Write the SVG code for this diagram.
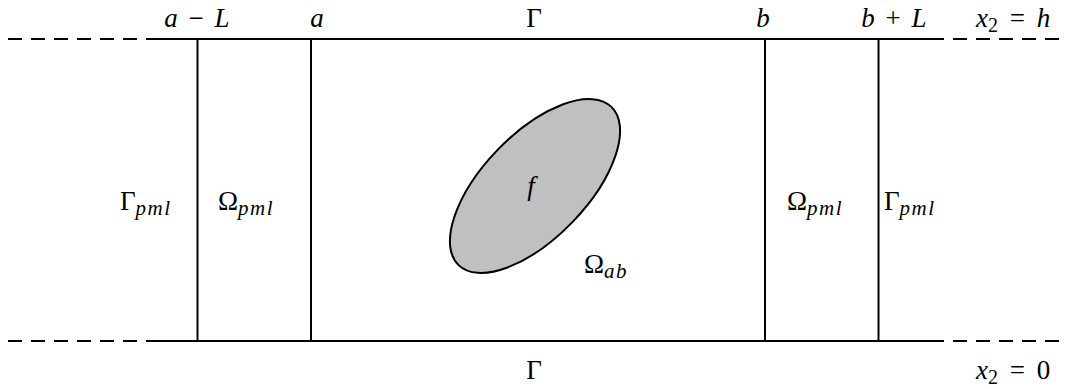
<svg xmlns="http://www.w3.org/2000/svg" width="1066" height="389" viewBox="0 0 1066 389">
<style>
.ln{stroke:#000;stroke-width:2;fill:none}
.ds{stroke:#000;stroke-width:2;fill:none;stroke-dasharray:14 9}
text{font-family:"Liberation Serif","DejaVu Serif",serif;font-size:27px;fill:#000}
.i{font-style:italic}
.s{font-size:21px;font-style:italic;letter-spacing:1.5px}
.m{text-anchor:middle}
</style>
<rect width="1066" height="389" fill="#fff"/>
<g id="connectors">
<line class="ds" x1="8" y1="39" x2="160" y2="39"/>
<line class="ln" x1="160" y1="39" x2="930" y2="39"/>
<line class="ds" x1="930" y1="39" x2="1064" y2="39"/>
<line class="ds" x1="8" y1="341" x2="160" y2="341"/>
<line class="ln" x1="160" y1="341" x2="930" y2="341"/>
<line class="ds" x1="930" y1="341" x2="1064" y2="341"/>
<line class="ln" x1="197.5" y1="39" x2="197.5" y2="341"/>
<line class="ln" x1="311" y1="39" x2="311" y2="341"/>
<line class="ln" x1="765" y1="39" x2="765" y2="341"/>
<line class="ln" x1="878.5" y1="39" x2="878.5" y2="341"/>
</g>
<g id="source">
<ellipse cx="535" cy="186" rx="110" ry="52" transform="rotate(-46 535 186)" fill="#c0c0c0" stroke="#000" stroke-width="2"/>
<text class="i m" x="531" y="195">f</text>
</g>
<g id="labels-top">
<text class="m" x="197" y="27" word-spacing="4"><tspan class="i">a</tspan> − <tspan class="i">L</tspan></text>
<text class="i m" x="317" y="27">a</text>
<text class="m" x="534" y="27">Γ</text>
<text class="i m" x="763" y="27">b</text>
<text class="m" x="894" y="27" word-spacing="4"><tspan class="i">b</tspan> + <tspan class="i">L</tspan></text>
<text x="976" y="27" word-spacing="5"><tspan class="i">x</tspan><tspan font-size="20" dy="5">2</tspan><tspan dy="-5"> = </tspan><tspan class="i">h</tspan></text>
</g>
<g id="labels-bottom">
<text class="m" x="534" y="379">Γ</text>
<text x="976" y="379" word-spacing="5"><tspan class="i">x</tspan><tspan font-size="20" dy="5">2</tspan><tspan dy="-5"> = 0</tspan></text>
</g>
<g id="gamma-pml-left"><text x="120" y="210">Γ<tspan class="s" dy="5">pml</tspan></text></g>
<g id="omega-pml-left"><text x="218" y="210">Ω<tspan class="s" dy="5">pml</tspan></text></g>
<g id="omega-pml-right"><text x="787" y="210">Ω<tspan class="s" dy="5">pml</tspan></text></g>
<g id="gamma-pml-right"><text x="884" y="210">Γ<tspan class="s" dy="5">pml</tspan></text></g>
<g id="omega-ab"><text x="584" y="273">Ω<tspan class="s" dy="5">ab</tspan></text></g>
</svg>
